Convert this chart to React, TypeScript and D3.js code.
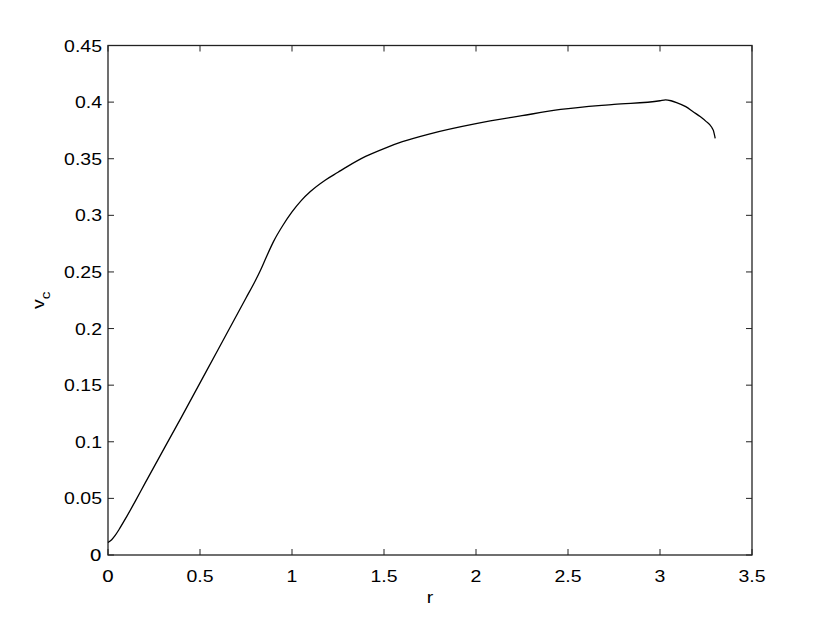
import { useEffect, useRef } from 'react'
import * as d3 from 'd3'

// rotation curve
const rValues = [0, 0.02, 0.04, 0.06, 0.1, 0.15, 0.2, 0.4, 0.6, 0.75, 0.8, 0.83, 0.86, 0.9, 0.95, 1.0, 1.05, 1.1, 1.18, 1.25, 1.3, 1.4, 1.5, 1.6, 1.75, 2.0, 2.25, 2.46, 2.75, 3.0, 3.03, 3.06, 3.09, 3.14, 3.18, 3.22, 3.25, 3.28, 3.29, 3.3]
const vcValues = [0.011, 0.0135, 0.0175, 0.0225, 0.0335, 0.048, 0.063, 0.122, 0.182, 0.227, 0.242, 0.252, 0.263, 0.277, 0.291, 0.303, 0.313, 0.321, 0.331, 0.338, 0.343, 0.352, 0.359, 0.365, 0.372, 0.381, 0.388, 0.3935, 0.398, 0.4012, 0.402, 0.4012, 0.3996, 0.396, 0.3915, 0.387, 0.383, 0.378, 0.375, 0.368]
const xTicks = [0, 0.5, 1, 1.5, 2, 2.5, 3, 3.5]
const yTicks = [0, 0.05, 0.1, 0.15, 0.2, 0.25, 0.3, 0.35, 0.4, 0.45]

const W = 830
const H = 625

export default function App() {
  const ref = useRef<SVGSVGElement>(null)

  useEffect(() => {
    const svg = d3.select(ref.current)
    svg.selectAll('*').remove()

    const left = 108, right = 752, top = 45.5, bottom = 555
    const x = d3.scaleLinear().domain([0, 3.5]).range([left, right])
    const y = d3.scaleLinear().domain([0, 0.45]).range([bottom, top])
    const font = '"Liberation Sans", Arial, Helvetica, sans-serif'
    const fmt = (d: number) => String(d)

    svg.append('rect').attr('width', W).attr('height', H).attr('fill', '#fff')

    const g = svg.append('g')

    // the reference text is a slightly wide sans, so stretch it a bit
    const label = (px: number, py: number, txt: string, anchor: string, fam = font) =>
      g.append('text')
        .attr('transform', `translate(${px},${py}) scale(1.18,1)`)
        .attr('text-anchor', anchor)
        .style('font-family', fam)
        .style('font-size', '16.5px')
        .text(txt)

    const tickLen = 6
    // ticks on all four sides, pointing inward
    xTicks.forEach(t => {
      g.append('line').attr('x1', x(t)).attr('x2', x(t)).attr('y1', bottom).attr('y2', bottom - tickLen).attr('stroke', '#222')
      g.append('line').attr('x1', x(t)).attr('x2', x(t)).attr('y1', top).attr('y2', top + tickLen).attr('stroke', '#222')
      label(x(t), 582, fmt(t), 'middle', t === 0 ? '"DejaVu Sans", sans-serif' : font)
    })
    yTicks.forEach(t => {
      g.append('line').attr('x1', left).attr('x2', left + tickLen).attr('y1', y(t)).attr('y2', y(t)).attr('stroke', '#222')
      g.append('line').attr('x1', right).attr('x2', right - tickLen).attr('y1', y(t)).attr('y2', y(t)).attr('stroke', '#222')
      label(left - 6, y(t) + 6, fmt(t), 'end', t === 0 ? '"DejaVu Sans", sans-serif' : font)
    })

    // box
    g.append('rect')
      .attr('x', left).attr('y', top)
      .attr('width', right - left).attr('height', bottom - top)
      .attr('fill', 'none').attr('stroke', '#222').attr('stroke-width', 1.3)

    const pts = rValues.map((r, i) => [r, vcValues[i]] as [number, number])
    const line = d3.line<[number, number]>()
      .x(d => x(d[0]))
      .y(d => y(d[1]))
      .curve(d3.curveMonotoneX)
    g.append('path')
      .attr('d', line(pts))
      .attr('fill', 'none')
      .attr('stroke', '#000')
      .attr('stroke-width', 1.3)

    // axis labels
    label((left + right) / 2, 603, 'r', 'middle')

    const yl = g.append('text')
      .attr('transform', `translate(44,${(top + bottom) / 2}) rotate(-90) scale(1.18,1)`)
      .attr('text-anchor', 'middle')
      .style('font-family', font).style('font-size', '16.5px')
    yl.append('tspan').text('v')
    yl.append('tspan').attr('dy', 6).style('font-size', '13px').text('c')
  }, [])

  return <svg ref={ref} width={W} height={H} style={{ display: 'block', position: 'absolute', left: 0, top: 0 }} />
}
